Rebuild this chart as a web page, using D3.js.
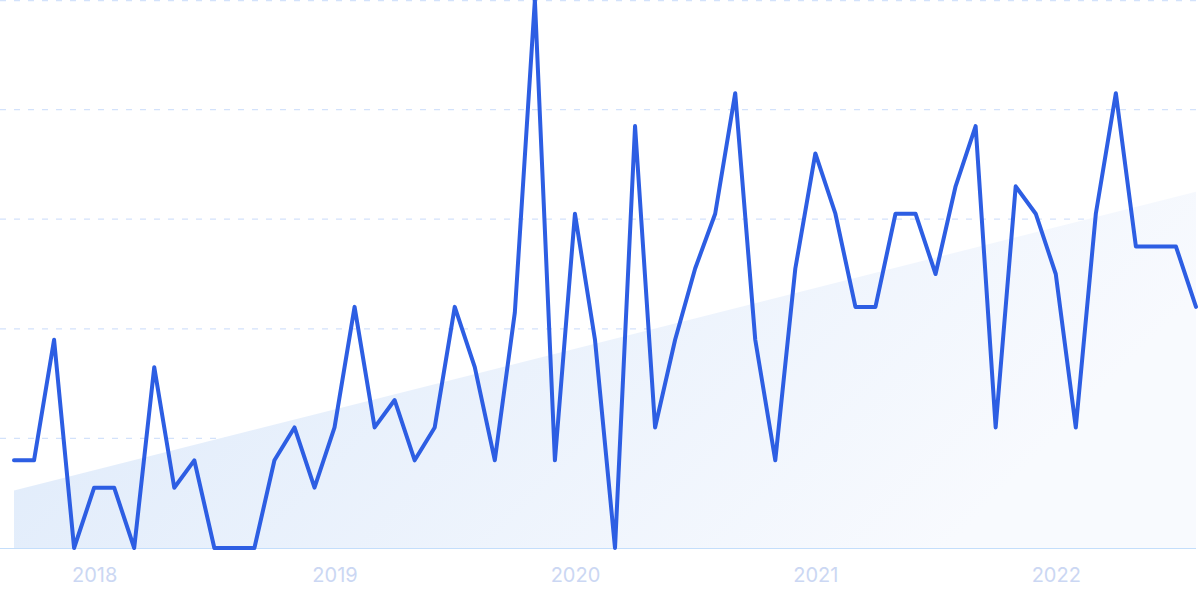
<!DOCTYPE html>
<html>
<head>
<meta charset="utf-8">
<script src="https://cdn.jsdelivr.net/npm/d3@7"></script>
<style>
  html, body { margin: 0; padding: 0; background: #fff; }
  svg { display: block; }
</style>
</head>
<body>
<div id="chart"></div>
<script>
// Monthly interest, Sep 2017 - Aug 2022 (0-100 scale)
const startMonth = new Date(2017, 8, 1)
const endMonth = new Date(2022, 8, 1)
const values = [
  16, 16, 38, 0, 11, 11, 0, 33, 11, 16, 0, 0,
  0, 16, 22, 11, 22, 44, 22, 27, 16, 22, 44, 33,
  16, 43, 100, 16, 61, 38, 0, 77, 22, 38, 51, 61,
  83, 38, 16, 51, 72, 61, 44, 44, 61, 61, 50, 66,
  77, 22, 66, 61, 50, 22, 61, 83, 55, 55, 55, 44
]
// trend band, start and end values
const trendValues = [10.5, 65]
const gridValues = [20, 40, 60, 80, 100]
const yearTicks = [2018, 2019, 2020, 2021, 2022]

const width = 1200
const height = 600
const plotLeft = 14
const plotRight = 1196
const baseline = 548

const months = d3.timeMonth.range(startMonth, endMonth)
const data = months.map((m, i) => ({ month: m, value: values[i] }))

const svg = d3.select('#chart')
  .append('svg')
  .attr('width', width)
  .attr('height', height)

const x = d3.scalePoint()
  .domain(months.map(d => +d))
  .range([plotLeft, plotRight])

const y = d3.scaleLinear()
  .domain([0, 100])
  .range([baseline, 0])

// gradient for trend band
const defs = svg.append('defs')
const grad = defs.append('linearGradient')
  .attr('id', 'trendFill')
  .attr('x1', '0%').attr('y1', '0%')
  .attr('x2', '100%').attr('y2', '30%')
grad.append('stop').attr('offset', '0%').attr('stop-color', '#dce9fa')
grad.append('stop').attr('offset', '100%').attr('stop-color', '#f8fafe')

// gridlines
svg.append('g')
  .selectAll('line')
  .data(gridValues)
  .enter().append('line')
  .attr('x1', 0)
  .attr('x2', plotRight)
  .attr('y1', d => y(d) + (d === 100 ? 0.5 : 0))
  .attr('y2', d => y(d) + (d === 100 ? 0.5 : 0))
  .attr('stroke', '#d3e2fb')
  .attr('stroke-width', 1.3)
  .attr('stroke-dasharray', '6 8')

// trend band
const trendData = [
  { month: months[0], value: trendValues[0] },
  { month: months[months.length - 1], value: trendValues[1] }
]
svg.append('path')
  .datum(trendData)
  .attr('fill', 'url(#trendFill)')
  .attr('d', d3.area()
    .x(d => x(+d.month))
    .y0(y(0))
    .y1(d => y(d.value)))

// baseline
svg.append('line')
  .attr('x1', 0)
  .attr('x2', plotRight)
  .attr('y1', y(0) + 0.5)
  .attr('y2', y(0) + 0.5)
  .attr('stroke', '#c4defb')
  .attr('stroke-width', 1)

// line
svg.append('path')
  .datum(data)
  .attr('fill', 'none')
  .attr('stroke', '#2d5ee3')
  .attr('stroke-width', 4)
  .attr('stroke-linejoin', 'round')
  .attr('stroke-linecap', 'round')
  .attr('d', d3.line()
    .x(d => x(+d.month))
    .y(d => y(d.value)))

// year axis
const xAxis = d3.axisBottom(x)
  .tickValues(yearTicks.map(yr => +new Date(yr, 0, 1)))
  .tickFormat(d => new Date(d).getFullYear())
  .tickSize(0)
  .tickPadding(0)

const axisG = svg.append('g')
  .attr('transform', `translate(0, ${baseline})`)
  .call(xAxis)
axisG.select('.domain').remove()
axisG.selectAll('text')
  .attr('y', 34)
  .attr('dy', 0)
  .attr('fill', '#cbd7f3')
  .style('font-family', 'Inter, sans-serif')
  .style('font-size', '20px')
</script>
</body>
</html>
